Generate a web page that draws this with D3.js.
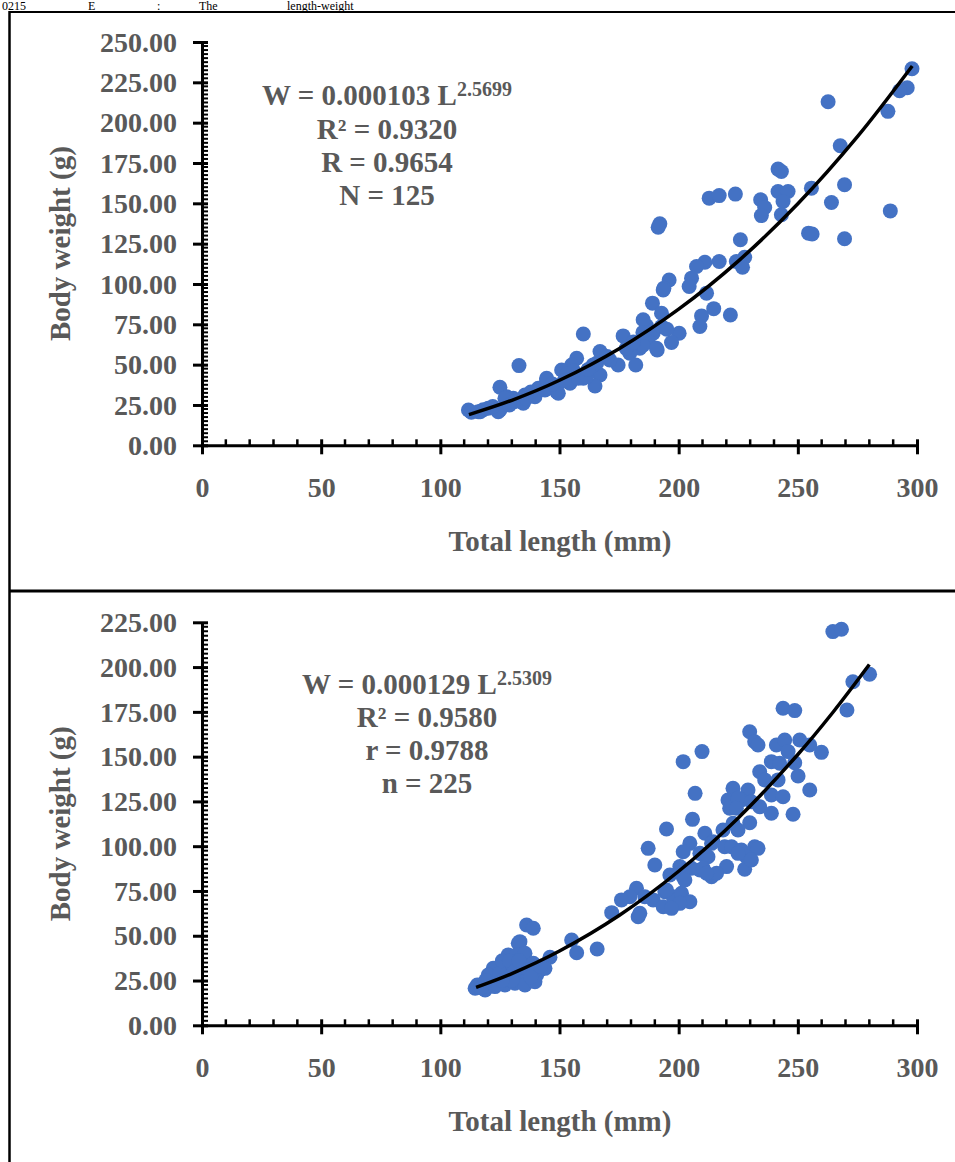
<!DOCTYPE html>
<html>
<head>
<meta charset="utf-8">
<script src="https://cdn.jsdelivr.net/npm/d3@7"></script>
<style>
  html, body { margin: 0; padding: 0; background: #fff; }
  svg { display: block; }
</style>
</head>
<body>
<script>
// ---- data ----
var xTicks = [0, 50, 100, 150, 200, 250, 300];
var topYTicks = [0, 25, 50, 75, 100, 125, 150, 175, 200, 225, 250];
var botYTicks = [0, 25, 50, 75, 100, 125, 150, 175, 200, 225];

var topEquation = ["W = 0.000103 L", "2.5699", "R² = 0.9320", "R = 0.9654", "N = 125"];
var botEquation = ["W = 0.000129 L", "2.5309", "R² = 0.9580", "r = 0.9788", "n = 225"];

// top panel, total length (mm) / body weight (g)
var topLength = [297.9, 295.9, 292.7, 287.8, 262.7, 267.8, 241.7, 243.1, 212.8, 217, 223.8, 234.4, 236.1, 234.7,
  241.7, 245.9, 243.8, 243.1, 255.7, 269.6, 264.1, 288.8, 254.5, 256, 269.6, 192.1, 191.4, 225.9, 227.7, 224.2,
  226.8, 217, 211, 207.5, 205.4, 204.4, 196, 193.8, 189, 192.8, 211.7, 214.7, 221.7, 209.6, 208.9, 200.2, 197,
  191, 186.5, 189.3, 187.2, 183.7, 179.5, 182, 176.7, 174.6, 160, 167, 165.6, 167, 164.9, 157.2, 155.1, 160,
  150.9, 154.4, 144.6, 148.8, 141.1, 139.7, 133, 125, 134.8, 130.6, 125, 120.1, 115.9, 111.8, 127.8, 116.7,
  124.3, 127.1, 135.5, 143.9, 149.5, 144.6, 157.9, 161.4, 164.1, 171.1, 185, 190.7, 193.5, 192.8, 185.1,
  153, 147, 138, 131, 122, 118, 113, 129, 136, 152, 156, 162, 170, 178, 181, 185, 195];
var topWeight = [233.4, 221.6, 219.8, 207, 213, 185.7, 171.2, 169.7, 153.2, 154.8, 155.7, 152.2, 147.4, 142.4,
  157.3, 157.3, 151.1, 142.9, 159.4, 161.5, 150.5, 145.3, 131.5, 131, 128, 137.3, 135.2, 127.4, 116.6, 113.9,
  110.4, 113.9, 113.5, 110.8, 103.6, 98.4, 102.5, 97.4, 88.1, 81.9, 94.3, 84.7, 80.8, 80.2, 73.6, 69.5, 63.7,
  59.1, 74, 69.5, 64.3, 60.2, 57.1, 49.8, 67.8, 49.8, 69, 58.1, 50.9, 43.6, 36.8, 54, 49.8, 41.6,
  46.7, 38.5, 40.5, 33.3, 35.4, 30.1, 49.4, 36, 26.1, 29.2, 21.9, 23, 20.8, 21.9, 30.1, 20.8,
  20.8, 29.2, 31.2, 34.3, 32.3, 41.6, 41.6, 42.6, 49.8, 52.9, 62, 60.2, 96.3, 73.6, 77.8,
  44, 38, 33, 27, 24, 22, 20.5, 25, 29, 40, 46, 47, 55, 60, 64, 70, 72];

// bottom panel
var botLength = [264.7, 268.3, 280.1, 273.1, 270.6, 243.8, 248.7, 259.9, 255, 248, 229.8, 231.9, 233.3, 241,
  244.5, 245.9, 250.8, 255, 238.9, 242.4, 248.7, 250.1, 234, 236.1, 241.7, 222.8, 229.1, 238.9, 243.8, 220.7,
  221.4, 226.3, 234, 238.9, 229.8, 222.8, 218.6, 224.9, 201.9, 209.8, 206.9, 205.8, 194.9, 211, 214.4, 204.7,
  201.9, 210.3, 187.2, 190, 219.3, 222.2, 226.3, 231.9, 228.4, 227.7, 220.1, 196.3, 201.9, 208.9, 213.8, 215.9,
  182.3, 224.9, 230.5, 224.2, 213.8, 208.9, 212.3, 224.9, 233.3, 230.5, 200.5, 205.4, 210.3, 211.7, 179.5,
  189.3, 194.2, 197.7, 201.2, 204.7, 200.5, 176, 185.8, 193.5, 197, 194.9, 202.6, 171.9, 183, 183.7, 155.1,
  157.2, 165.8, 146, 136.2, 139, 133.4, 132.7, 128.5, 132, 135.5, 122.2, 127.1, 130.6, 134.8, 139, 141.8,
  120.1, 124.3, 128.5, 132.7, 136.2, 140.4, 143.9, 114.6, 118.8, 122.9, 127.1, 131.3, 135.5, 139.7,
  115.5, 117, 121, 125, 126, 129, 131, 133, 137, 138, 130, 124, 119, 126, 142];
var botWeight = [219.8, 221.1, 196, 191.8, 176, 177, 175.7, 152.4, 131.4, 117.8, 163.9, 158.3, 156.5, 156.5,
  159.3, 152.8, 159.3, 156.5, 147.2, 146.3, 146.6, 139.2, 141.6, 137, 137, 132.3, 131.4, 128.6, 127.6, 125.8,
  121.2, 125.8, 122, 118.4, 113.1, 112.8, 109, 109, 147.2, 152.8, 129.5, 115, 109.6, 107.2, 102.5, 101.6,
  96.9, 95.1, 98.8, 89.5, 99.7, 99.7, 97.9, 99.7, 94.1, 87.1, 88.6, 83.9, 83, 86.7, 83, 84.9,
  76.5, 126.7, 124.8, 121.2, 101.6, 96, 94.1, 96, 98.8, 92.3, 88.6, 87.7, 87.7, 84.9, 71.8,
  70, 74.6, 71.8, 73.7, 69, 68.1, 70, 71.8, 66.2, 65.3, 75.5, 81.1, 62.9, 60.6, 62.5, 47.6,
  40.5, 42.6, 38, 56, 54.2, 46.7, 45.8, 39.3, 39.3, 40.2, 31.8, 33.7, 32.7, 33.7, 34.6, 30.9,
  28.1, 26.2, 27.1, 28.1, 25.3, 28.1, 31.8, 20.7, 19.7, 21.6, 22.5, 23.5, 22.5, 24.3,
  22.5, 21, 24, 29, 36, 36, 30, 36, 31, 27, 25, 23, 25, 25, 33];

// fitted power curves as drawn
var topTrendL = [112, 130, 150, 175, 200, 225, 250, 275, 298];
var topTrendW = [19.0, 27.9, 40.3, 59.9, 84.4, 114.2, 149.7, 191.3, 235.1];
var botTrendL = [115, 130, 150, 175, 200, 225, 250, 265, 280];
var botTrendW = [21.2, 28.9, 41.5, 61.3, 86.0, 115.8, 151.2, 175.2, 201.4];

var W = 955, H = 1162;
var font = "'Liberation Serif', 'Times New Roman', serif";
var grey = "#595959";
var blue = "#4472C4";

var svg = d3.select("body").append("svg")
  .attr("width", W)
  .attr("height", H);

// header line of the page (kept small so it fits above the frame)
var header = svg.append("g")
  .attr("font-family", font)
  .attr("font-size", 12)
  .attr("fill", "#000");
[["0215", 2], ["E", 88], [":", 157], ["The", 199], ["length-weight", 287]].forEach(function(h) {
  header.append("text").attr("x", h[1]).attr("y", 9.5).text(h[0]);
});

// panel frame
svg.append("line").attr("x1", 9).attr("x2", W).attr("y1", 12).attr("y2", 12)
  .attr("stroke", "#000").attr("stroke-width", 2);
svg.append("line").attr("x1", 9).attr("x2", W).attr("y1", 591).attr("y2", 591)
  .attr("stroke", "#000").attr("stroke-width", 3);
svg.append("line").attr("x1", 9.5).attr("x2", 9.5).attr("y1", 11).attr("y2", H)
  .attr("stroke", "#000").attr("stroke-width", 2.5);

function drawPanel(cfg) {
  var x = d3.scaleLinear().domain([0, 300]).range([202, 917]);
  var y = d3.scaleLinear().domain([0, cfg.yMax]).range([cfg.yBottom, cfg.yTop]);

  var g = svg.append("g");

  // minor ticks
  var xMinor = d3.range(0, 301, 10).filter(function(v) { return v % 50 !== 0; });
  g.selectAll(".xminor").data(xMinor).enter().append("line")
    .attr("x1", function(d) { return x(d); })
    .attr("x2", function(d) { return x(d); })
    .attr("y1", cfg.yBottom - 6)
    .attr("y2", cfg.yBottom)
    .attr("stroke", "#000").attr("stroke-width", 2.5);

  var yMinor = d3.range(0, cfg.yMax + 0.1, 2.5).filter(function(v) { return v % 25 !== 0; });
  g.selectAll(".yminor").data(yMinor).enter().append("line")
    .attr("x1", 202)
    .attr("x2", 208)
    .attr("y1", function(d) { return y(d); })
    .attr("y2", function(d) { return y(d); })
    .attr("stroke", "#000").attr("stroke-width", 2);

  // x axis
  var xa = g.append("g")
    .attr("transform", "translate(0," + cfg.yBottom + ")")
    .call(d3.axisBottom(x).tickValues(xTicks).tickSize(9).tickSizeOuter(0));
  xa.select(".domain").attr("stroke-width", 3);
  xa.selectAll(".tick line").attr("y1", -6).attr("stroke-width", 3);
  xa.selectAll(".tick text")
    .attr("y", 52).attr("dy", 0)
    .attr("font-family", font).attr("font-size", 28).attr("font-weight", "bold")
    .attr("fill", grey);

  // y axis
  var ya = g.append("g")
    .attr("transform", "translate(202,0)")
    .call(d3.axisLeft(y).tickValues(cfg.yTicks).tickSize(9).tickSizeOuter(0)
      .tickFormat(d3.format(".2f")));
  ya.select(".domain").attr("stroke-width", 3);
  ya.selectAll(".tick line").attr("x1", 6).attr("stroke-width", 3);
  ya.selectAll(".tick text")
    .attr("x", -25).attr("dy", "0.33em")
    .attr("font-family", font).attr("font-size", 28).attr("font-weight", "bold")
    .attr("fill", grey);

  // axis titles
  g.append("text")
    .attr("x", 560).attr("y", cfg.yBottom + 105.5)
    .attr("text-anchor", "middle")
    .attr("font-family", font).attr("font-size", 29).attr("font-weight", "bold")
    .attr("fill", grey)
    .text("Total length (mm)");

  g.append("text")
    .attr("transform", "translate(70," + ((cfg.yTop + cfg.yBottom) / 2) + ") rotate(-90)")
    .attr("text-anchor", "middle")
    .attr("font-family", font).attr("font-size", 29).attr("font-weight", "bold")
    .attr("fill", grey)
    .text("Body weight (g)");

  // points
  g.selectAll(".dot").data(cfg.len).enter().append("circle")
    .attr("cx", function(d) { return x(d); })
    .attr("cy", function(d, i) { return y(cfg.wt[i]); })
    .attr("r", 7.5)
    .attr("fill", blue);

  // trend line
  var line = d3.line()
    .x(function(d) { return x(d); })
    .y(function(d, i) { return y(cfg.trendW[i]); })
    .curve(d3.curveCatmullRom);
  g.append("path")
    .datum(cfg.trendL)
    .attr("d", line)
    .attr("fill", "none")
    .attr("stroke", "#000")
    .attr("stroke-width", 3.5);

  // equation block
  var eq = cfg.eq;
  var t1 = g.append("text")
    .attr("x", cfg.eqX).attr("y", cfg.eqY[0])
    .attr("text-anchor", "middle")
    .attr("font-family", font).attr("font-size", 29).attr("font-weight", "bold")
    .attr("fill", grey);
  t1.append("tspan").text(eq[0]);
  t1.append("tspan").attr("font-size", 20).attr("dy", -9).text(eq[1]);
  [eq[2], eq[3], eq[4]].forEach(function(s, i) {
    g.append("text")
      .attr("x", cfg.eqX).attr("y", cfg.eqY[i + 1])
      .attr("text-anchor", "middle")
      .attr("font-family", font).attr("font-size", 29).attr("font-weight", "bold")
      .attr("fill", grey)
      .text(s);
  });
}

drawPanel({
  yMax: 250, yTop: 42, yBottom: 445.3, yTicks: topYTicks,
  len: topLength, wt: topWeight, trendL: topTrendL, trendW: topTrendW,
  eq: topEquation, eqX: 387, eqY: [105, 139.3, 171.7, 205.3]
});

drawPanel({
  yMax: 225, yTop: 622.3, yBottom: 1025.3, yTicks: botYTicks,
  len: botLength, wt: botWeight, trendL: botTrendL, trendW: botTrendW,
  eq: botEquation, eqX: 427, eqY: [694, 726.7, 760, 793]
});
</script>
</body>
</html>
